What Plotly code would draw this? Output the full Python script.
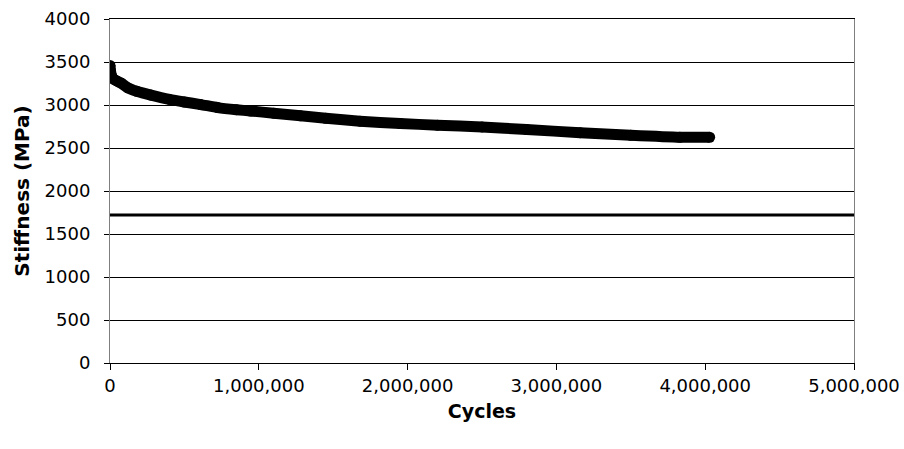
import plotly.graph_objects as go

# Stiffness measured over the fatigue test
cycles = [0, 3000, 10000, 25000, 45000, 74000, 120000, 180000, 275000, 400000,
          500000, 610000, 724000, 850000, 945000, 1100000, 1280000, 1450000,
          1680000, 1950000, 2200000, 2500000, 2800000, 3160000, 3500000,
          3830000, 4030000]
stiffness = [3460, 3400, 3340, 3300, 3280, 3255, 3200, 3160, 3115, 3065,
             3035, 3005, 2970, 2945, 2930, 2905, 2875, 2845,
             2812, 2785, 2765, 2745, 2715, 2678, 2648,
             2625, 2625]

# Reference stiffness level drawn across the full range
reference_level = 1720
reference_span = [0, 5000000]

x_ticks = [0, 1000000, 2000000, 3000000, 4000000, 5000000]
x_tick_text = ["0", "1,000,000", "2,000,000", "3,000,000", "4,000,000", "5,000,000"]
y_ticks = [0, 500, 1000, 1500, 2000, 2500, 3000, 3500, 4000]

FONT = "DejaVu Sans, Liberation Sans, Arial, sans-serif"

fig = go.Figure()

fig.add_trace(go.Scatter(
    x=reference_span,
    y=[reference_level] * len(reference_span),
    mode="lines",
    line=dict(color="black", width=3),
    hoverinfo="skip",
    showlegend=False,
))

fig.add_trace(go.Scatter(
    x=cycles,
    y=stiffness,
    mode="lines+markers",
    line=dict(color="black", width=11, shape="spline", smoothing=0.6),
    marker=dict(color="black", size=11, symbol="circle"),
    showlegend=False,
))

fig.update_layout(
    width=904,
    height=449,
    margin=dict(l=110, r=50, t=19, b=86, autoexpand=False),
    paper_bgcolor="white",
    plot_bgcolor="white",
    font=dict(family=FONT, color="black", size=18),
    xaxis=dict(
        range=[0, 5000000],
        tickvals=x_ticks,
        ticktext=x_tick_text,
        ticks="outside",
        ticklen=6,
        tickcolor="black",
        showline=True,
        linecolor="black",
        linewidth=1,
        mirror=True,
        showgrid=False,
        zeroline=False,
        automargin=False,
        tickfont=dict(family=FONT, size=18, color="black"),
        title=dict(text="<b>Cycles</b>", font=dict(family=FONT, size=19, color="black"), standoff=10),
    ),
    yaxis=dict(
        range=[0, 4000],
        tickvals=y_ticks,
        ticks="outside",
        ticklen=5,
        tickcolor="black",
        showline=True,
        linecolor="#808080",
        linewidth=1,
        mirror=True,
        showgrid=True,
        gridcolor="black",
        gridwidth=1,
        zeroline=False,
        automargin=False,
        ticklabelstandoff=10,
        tickfont=dict(family=FONT, size=18, color="black"),
        title=dict(text="<b>Stiffness (MPa)</b>", font=dict(family=FONT, size=20, color="black"), standoff=9),
    ),
)

fig.write_html("out.html")
